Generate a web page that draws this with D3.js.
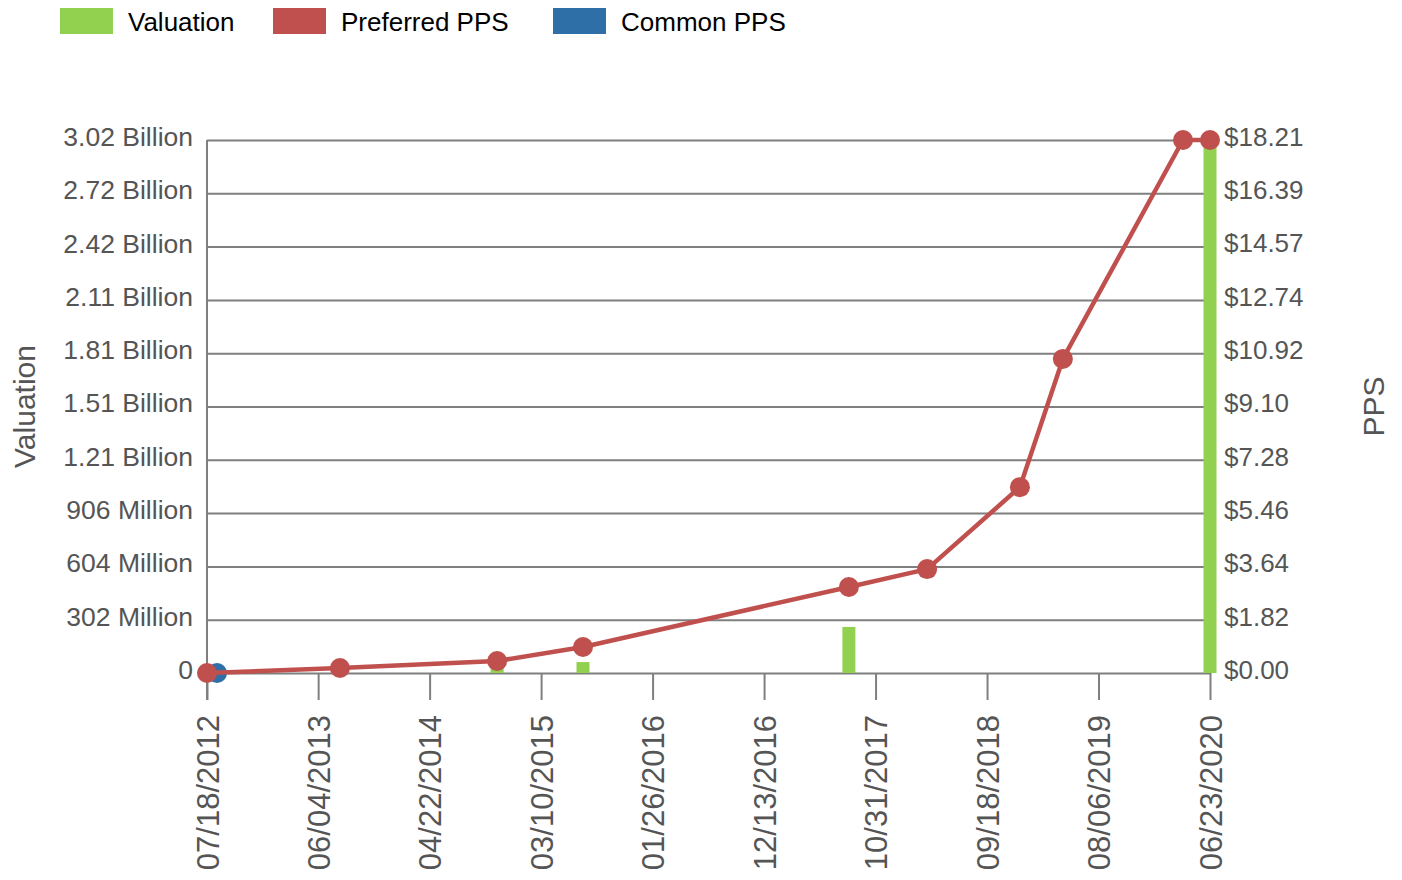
<!DOCTYPE html>
<html>
<head>
<meta charset="utf-8">
<script src="https://cdn.jsdelivr.net/npm/d3@7"></script>
<style>
  html, body { margin: 0; padding: 0; background: #fff; }
  svg { display: block; font-family: "Liberation Sans", Arial, Helvetica, sans-serif; }
</style>
</head>
<body>
<svg id="chart" width="1402" height="880"></svg>
<script>
// ---------- data ----------
const xTickLabels = ["07/18/2012","06/04/2013","04/22/2014","03/10/2015","01/26/2016",
                     "12/13/2016","10/31/2017","09/18/2018","08/06/2019","06/23/2020"];

const valTickValues = [0, 302e6, 604e6, 906e6, 1.208e9, 1.51e9, 1.812e9, 2.114e9, 2.416e9, 2.718e9, 3.02e9];
const valTickLabels = ["0","302 Million","604 Million","906 Million","1.21 Billion","1.51 Billion",
                       "1.81 Billion","2.11 Billion","2.42 Billion","2.72 Billion","3.02 Billion"];

const ppsTickValues = [0, 1.821, 3.642, 5.463, 7.284, 9.105, 10.926, 12.747, 14.568, 16.389, 18.21];
const ppsTickLabels = ["$0.00","$1.82","$3.64","$5.46","$7.28","$9.10","$10.92","$12.74","$14.57","$16.39","$18.21"];

const prefDates = ["2012-07-18","2013-08-06","2014-11-03","2015-07-09","2017-08-15",
                   "2018-03-29","2018-12-22","2019-04-25","2020-04-06","2020-06-23"];
const prefPPS   = [0.00, 0.17, 0.41, 0.89, 2.94, 3.55, 6.35, 10.73, 18.21, 18.21];

const commonDates = ["2012-08-16"];
const commonPPS   = [0.00];

const valDates  = ["2014-11-03","2015-07-09","2017-08-15","2020-06-23"];
const valValues = [30e6, 62e6, 261e6, 3.02e9];

const seriesNames  = ["Valuation","Preferred PPS","Common PPS"];
const seriesColors = ["#92d050","#c0504d","#2e6fa8"];

// ---------- layout ----------
const svg = d3.select("#chart");
const plotL = 207, plotR = 1210, plotT = 140, plotB = 673;
const gridColor = "#7f7f7f", labelColor = "#555555";

const parseISO = d3.utcParse("%Y-%m-%d");
const parseTick = d3.utcParse("%m/%d/%Y");
const fmtTick = d3.utcFormat("%m/%d/%Y");

const xTickDates = xTickLabels.map(parseTick);
const x = d3.scaleUtc().domain([xTickDates[0], xTickDates[xTickDates.length - 1]]).range([plotL, plotR]);
const yVal = d3.scaleLinear().domain([0, 3.02e9]).range([plotB, plotT]);
const yPPS = d3.scaleLinear().domain([0, 18.21]).range([plotB, plotT]);

// ---------- left axis with gridlines ----------
const gL = svg.append("g").attr("transform", `translate(${plotL},0)`)
  .call(d3.axisLeft(yVal).tickValues(valTickValues)
        .tickFormat((d, i) => valTickLabels[i])
        .tickSize(-(plotR - plotL)).tickPadding(14));
gL.select(".domain").remove();
gL.selectAll(".tick line").attr("stroke", gridColor).attr("stroke-width", 2);
gL.selectAll(".tick text").attr("fill", labelColor).attr("y", -3).style("font-size", "26.5px")
  .style("font-family", '"Liberation Sans", Arial, sans-serif');

// ---------- right axis ----------
const gR = svg.append("g").attr("transform", `translate(${plotR},0)`)
  .call(d3.axisRight(yPPS).tickValues(ppsTickValues)
        .tickFormat((d, i) => ppsTickLabels[i])
        .tickSize(0).tickPadding(14));
gR.select(".domain").attr("stroke", gridColor).attr("stroke-width", 2);
gR.selectAll(".tick text").attr("fill", labelColor).attr("y", -3).style("font-size", "26px")
  .style("font-family", '"Liberation Sans", Arial, sans-serif');

// ---------- bottom axis ----------
const gX = svg.append("g").attr("transform", `translate(0,${plotB})`)
  .call(d3.axisBottom(x).tickValues(xTickDates).tickFormat(fmtTick).tickSize(27));
gX.select(".domain").remove();
gX.selectAll(".tick line").attr("stroke", gridColor).attr("stroke-width", 2);
gX.selectAll(".tick text")
  .attr("transform", "rotate(-90)")
  .attr("text-anchor", "end")
  .attr("x", -42).attr("y", 0).attr("dy", "0.36em")
  .attr("fill", labelColor).style("font-size", "31px")
  .style("font-family", '"Liberation Sans", Arial, sans-serif');

// left vertical axis line
svg.append("line")
  .attr("x1", plotL).attr("x2", plotL)
  .attr("y1", yVal(3.02e9)).attr("y2", yVal(0) + 27)
  .attr("stroke", gridColor).attr("stroke-width", 2);

// ---------- valuation bars ----------
const barW = 13;
svg.append("g").selectAll("rect")
  .data(valDates.map((d, i) => ({ date: parseISO(d), v: valValues[i] })))
  .join("rect")
  .attr("x", d => x(d.date) - barW / 2)
  .attr("width", barW)
  .attr("y", d => yVal(d.v))
  .attr("height", d => yVal(0) - yVal(d.v))
  .attr("fill", seriesColors[0]);

// ---------- common PPS ----------
const commonData = commonDates.map((d, i) => ({ date: parseISO(d), v: commonPPS[i] }));
svg.append("g").selectAll("circle").data(commonData).join("circle")
  .attr("cx", d => x(d.date)).attr("cy", d => yPPS(d.v)).attr("r", 10)
  .attr("fill", seriesColors[2]);

// ---------- preferred PPS ----------
const prefData = prefDates.map((d, i) => ({ date: parseISO(d), v: prefPPS[i] }));
svg.append("path").datum(prefData)
  .attr("fill", "none").attr("stroke", seriesColors[1]).attr("stroke-width", 4.5)
  .attr("stroke-linejoin", "round")
  .attr("d", d3.line().x(d => x(d.date)).y(d => yPPS(d.v)));
svg.append("g").selectAll("circle").data(prefData).join("circle")
  .attr("cx", d => x(d.date)).attr("cy", d => yPPS(d.v)).attr("r", 10)
  .attr("fill", seriesColors[1]);

// ---------- axis titles ----------
svg.append("text")
  .attr("transform", `translate(35,${(plotT + plotB) / 2}) rotate(-90)`)
  .attr("text-anchor", "middle")
  .attr("fill", labelColor).style("font-size", "30px")
  .text("Valuation");
svg.append("text")
  .attr("transform", `translate(1384,${(plotT + plotB) / 2}) rotate(-90)`)
  .attr("text-anchor", "middle")
  .attr("fill", labelColor).style("font-size", "30px")
  .text("PPS");

// ---------- legend ----------
const legendX = [60, 273, 553];
const lg = svg.append("g").selectAll("g").data(seriesNames).join("g")
  .attr("transform", (d, i) => `translate(${legendX[i]},8)`);
lg.append("rect").attr("width", 53).attr("height", 26).attr("fill", (d, i) => seriesColors[i]);
lg.append("text").attr("x", 68).attr("y", 23).attr("fill", "#000")
  .style("font-size", "26px").text(d => d);
</script>
</body>
</html>
